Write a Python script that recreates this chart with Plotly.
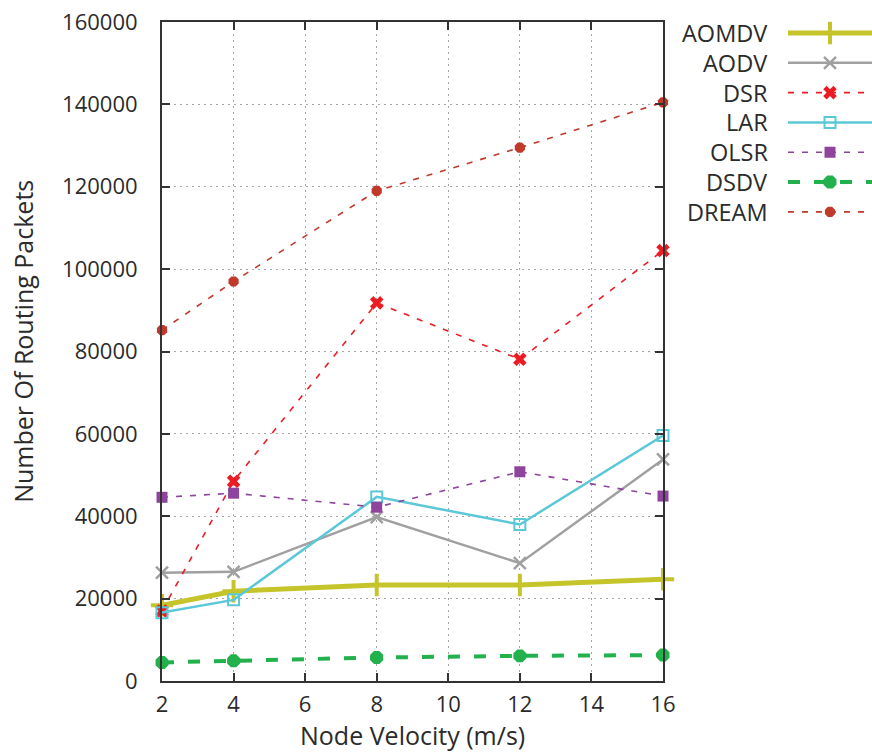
import plotly.graph_objects as go

# Node velocity (m/s) at which each protocol was simulated
velocity = [2, 4, 8, 12, 16]

# Number of routing packets per protocol
aomdv = [18400, 21800, 23300, 23300, 24700]
aodv = [26300, 26500, 39800, 28600, 53800]
dsr = [17000, 48500, 91800, 78100, 104500]
lar = [16600, 19700, 44700, 38000, 59600]
olsr = [44600, 45600, 42200, 50800, 44900]
dsdv = [4500, 4900, 5700, 6100, 6300]
dream = [85200, 97000, 119000, 129500, 140500]

x_ticks = [2, 4, 6, 8, 10, 12, 14, 16]
y_ticks = [0, 20000, 40000, 60000, 80000, 100000, 120000, 140000, 160000]
y_labels = [str(v) for v in y_ticks]

FONT = "Open Sans"
TXT = "#2b2b2b"
FS_TITLE = 25
FS_KEY = 23.5
FS_TICK = 22

# style per series: name, values, colour, line width, dash, marker symbol, marker size
series = [
    ("AOMDV", aomdv, "#c5c52b", 5, "solid", "cross-thin-open", 16, 4),
    ("AODV", aodv, "#a0a0a0", 2.5, "solid", "x-thin-open", 12, 2.5),
    ("DSR", dsr, "#ec1c24", 1.6, "6px,8px", "x", 12, 0),
    ("LAR", lar, "#5cc8d7", 2.5, "solid", "square-open", 11, 2),
    ("OLSR", olsr, "#8e449c", 1.6, "6px,8px", "square", 11, 0),
    ("DSDV", dsdv, "#22b14c", 4, "12px,14px", "octagon", 14, 0),
    ("DREAM", dream, "#c0392b", 1.6, "6px,8px", "octagon", 11, 0),
]

fig = go.Figure()

for name, vals, color, lw, dash, sym, ms, mlw in series:
    fig.add_trace(go.Scatter(
        x=velocity, y=vals, name=name, mode="lines+markers",
        line=dict(color=color, width=lw, dash=dash),
        marker=dict(symbol=sym, size=ms, color=color,
                    line=dict(color=color, width=mlw)),
        cliponaxis=False, showlegend=False,
    ))

# key drawn on its own small axis to the right of the plot
for i, (name, vals, color, lw, dash, sym, ms, mlw) in enumerate(series):
    fig.add_trace(go.Scatter(
        x=[0, 1], y=[i, i], mode="lines", xaxis="x2", yaxis="y2",
        line=dict(color=color, width=lw, dash=dash),
        showlegend=False, hoverinfo="skip", cliponaxis=False,
    ))
    fig.add_trace(go.Scatter(
        x=[0.5], y=[i], mode="markers", xaxis="x2", yaxis="y2",
        marker=dict(symbol=sym, size=ms, color=color,
                    line=dict(color=color, width=mlw)),
        showlegend=False, hoverinfo="skip", cliponaxis=False,
    ))
    fig.add_annotation(
        x=0.856, y=i, xref="paper", yref="y2", text=name,
        showarrow=False, xanchor="right", yanchor="middle",
        font=dict(family=FONT, size=FS_KEY, color=TXT),
    )

# axis titles
fig.add_annotation(
    x=0.3528, y=-0.0825, xref="paper", yref="paper",
    text="Node Velocity (m/s)", showarrow=False,
    xanchor="center", yanchor="middle",
    font=dict(family=FONT, size=FS_TITLE, color=TXT),
)
fig.add_annotation(
    x=-0.196, y=0.516, xref="paper", yref="paper",
    text="Number Of Routing Packets", showarrow=False, textangle=-90,
    xanchor="center", yanchor="middle",
    font=dict(family=FONT, size=FS_TITLE, color=TXT),
)

axis_common = dict(
    showline=True, linecolor="#333333", linewidth=2, mirror="ticks",
    ticks="inside", ticklen=8, tickwidth=2, tickcolor="#333333",
    showgrid=True, gridcolor="#a4a4a4", gridwidth=1.3, griddash="2px,4px",
    zeroline=False, automargin=False,
    tickfont=dict(family=FONT, size=FS_TICK, color=TXT),
)

fig.update_layout(
    width=872, height=753,
    margin=dict(l=162, r=0, t=22, b=72, autoexpand=False),
    paper_bgcolor="white", plot_bgcolor="white",
    xaxis=dict(
        range=[2, 16], tickvals=x_ticks, domain=[0, 501 / 710],
        ticklabelstandoff=3,
        **axis_common,
    ),
    yaxis=dict(
        range=[0, 160000], tickvals=y_ticks, ticktext=y_labels,
        ticklabelstandoff=18,
        **axis_common,
    ),
    xaxis2=dict(domain=[626 / 710, 1], range=[0, 1], visible=False,
                anchor="y2"),
    yaxis2=dict(domain=[0, 1], range=[21.74, -0.369], visible=False,
                anchor="x2"),
)

fig.write_html("out.html")
